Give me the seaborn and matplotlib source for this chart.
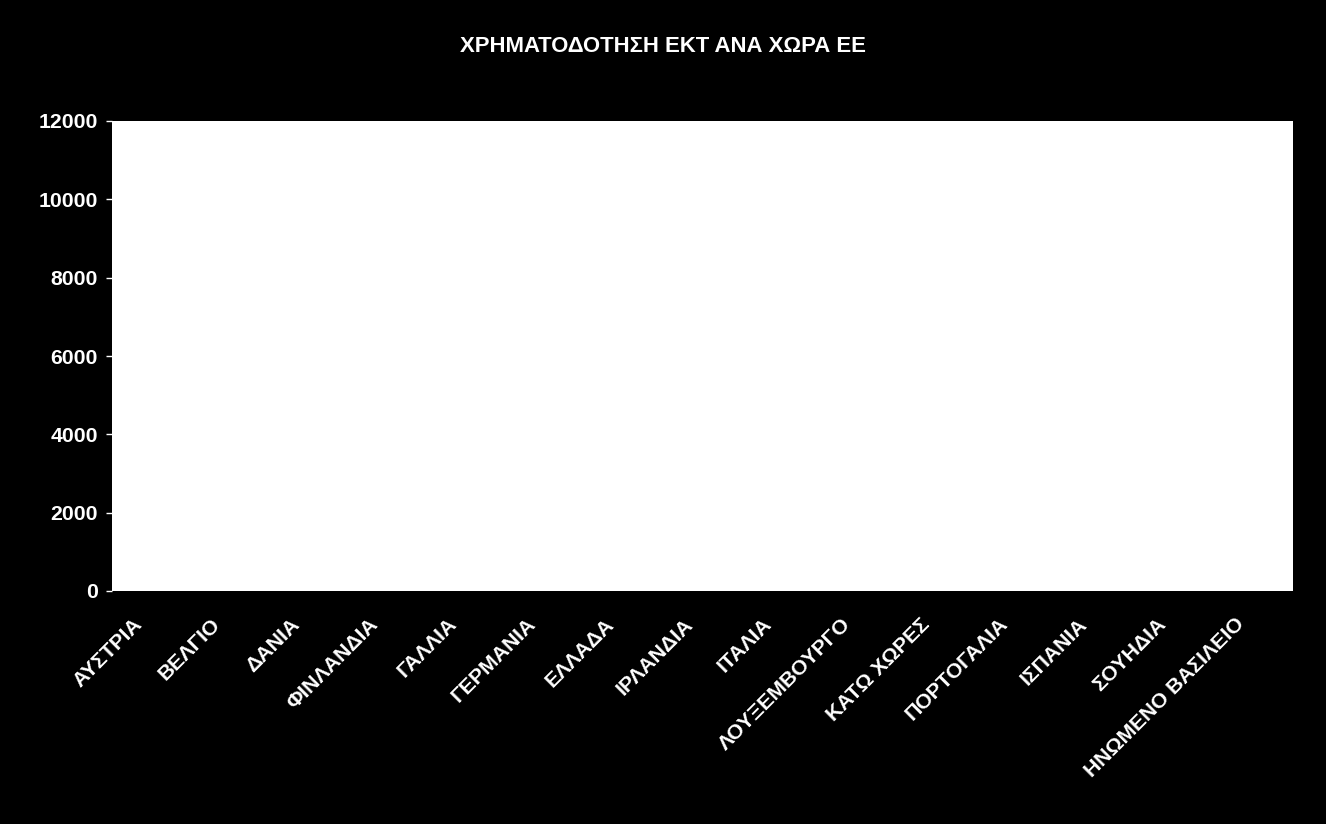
import matplotlib
matplotlib.use('Agg')
import matplotlib.pyplot as plt
import matplotlib.transforms as mtransforms
import seaborn as sns
import numpy as np
import pandas as pd

# Data: countries (x categories) and ESF funding values.
# The source chart shows an empty (white) plot area, no bars can be seen -> zeros.
countries = ['ΑΥΣΤΡΙΑ', 'ΒΕΛΓΙΟ', 'ΔΑΝΙΑ', 'ΦΙΝΛΑΝΔΙΑ', 'ΓΑΛΛΙΑ', 'ΓΕΡΜΑΝΙΑ', 'ΕΛΛΑΔΑ',
             'ΙΡΛΑΝΔΙΑ', 'ΙΤΑΛΙΑ', 'ΛΟΥΞΕΜΒΟΥΡΓΟ', 'ΚΑΤΩ ΧΩΡΕΣ', 'ΠΟΡΤΟΓΑΛΙΑ', 'ΙΣΠΑΝΙΑ',
             'ΣΟΥΗΔΙΑ', 'ΗΝΩΜΕΝΟ ΒΑΣΙΛΕΙΟ']
funding = [0, 0, 0, 0, 0, 0, 0, 0, 0, 0, 0, 0, 0, 0, 0]
y_ticks = [0, 2000, 4000, 6000, 8000, 10000, 12000]
title = 'ΧΡΗΜΑΤΟΔΟΤΗΣΗ ΕΚΤ ΑΝΑ ΧΩΡΑ ΕΕ'

df = pd.DataFrame({'country': countries, 'funding': funding})

sns.set_style('white')
plt.rcParams['font.family'] = ['Liberation Sans', 'DejaVu Sans']
plt.rcParams['font.weight'] = 'bold'

fig = plt.figure(figsize=(13.26, 8.24), dpi=100, facecolor='black')
ax = fig.add_axes([112 / 1326, 1 - 591 / 824, 1181 / 1326, 470 / 824])
ax.set_facecolor('white')

sns.barplot(data=df, x='country', y='funding', color='white', ax=ax, width=0.6)

ax.set_xlim(-0.5, len(countries) - 0.5)
ax.set_ylim(0, 12000)
ax.set_yticks(y_ticks)
ax.set_yticklabels([str(v) for v in y_ticks], fontsize=15.3, fontweight='bold', color='white')

# labels at category centres, tick marks at category boundaries (Excel style)
ax.set_xticks(np.arange(len(countries)))
ax.set_xticklabels(countries, rotation=45, ha='right', rotation_mode='anchor',
                   fontsize=15.3, fontweight='bold', color='white')
ax.set_xticks(np.arange(len(countries) + 1) - 0.5, minor=True)
ax.tick_params(axis='x', which='major', length=0, pad=17)
ax.tick_params(axis='x', which='minor', length=4.5, width=1, color='white', direction='out')
ax.tick_params(axis='y', which='major', length=4, width=1, color='white', direction='out', pad=6)
ax.tick_params(left=True, bottom=True)

shift = mtransforms.ScaledTranslation(-19 / 100, 0, fig.dpi_scale_trans)
for lab in ax.get_xticklabels():
    lab.set_transform(lab.get_transform() + shift)

ax.set_xlabel('')
ax.set_ylabel('')
for s in ax.spines.values():
    s.set_visible(False)

fig.text(663 / 1326, 1 - 46 / 824, title, ha='center', va='center',
         fontsize=15.9, fontweight='bold', color='white')

fig.savefig('out.png', dpi=100, facecolor='black')
